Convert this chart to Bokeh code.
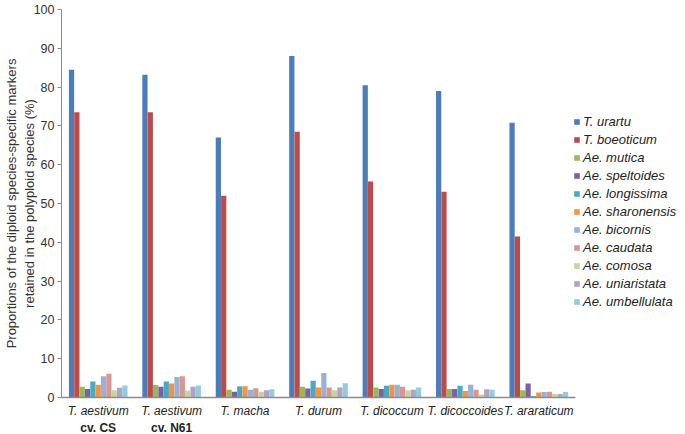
from bokeh.plotting import figure
from bokeh.models import (ColumnDataSource, FactorRange, Range1d, Legend, LegendItem,
                          SingleIntervalTicker)
from bokeh.transform import dodge
from bokeh.embed import file_html
from bokeh.resources import INLINE

species_names = ["T. aestivum", "T. aestivum", "T. macha", "T. durum",
                 "T. dicoccum", "T. dicoccoides", "T. araraticum"]
cultivar_names = ["cv. CS", "cv. N61", "", "", "", "", ""]

series = ["T. urartu", "T. boeoticum", "Ae. mutica", "Ae. speltoides", "Ae. longissima",
          "Ae. sharonensis", "Ae. bicornis", "Ae. caudata", "Ae. comosa",
          "Ae. uniaristata", "Ae. umbellulata"]

t_urartu = [84.5, 83.2, 67.0, 88.0, 80.5, 79.0, 70.8]
t_boeoticum = [73.5, 73.5, 52.0, 68.5, 55.7, 53.0, 41.5]
ae_mutica = [2.8, 3.2, 2.0, 2.8, 2.6, 2.2, 1.9]
ae_speltoides = [2.2, 2.8, 1.5, 2.3, 2.2, 2.2, 3.6]
ae_longissima = [4.1, 4.1, 2.9, 4.3, 3.0, 3.0, 0.4]
ae_sharonensis = [3.3, 3.6, 2.9, 2.6, 3.3, 1.7, 1.3]
ae_bicornis = [5.5, 5.3, 2.0, 6.3, 3.3, 3.3, 1.4]
ae_caudata = [6.1, 5.5, 2.4, 2.6, 2.8, 2.0, 1.5]
ae_comosa = [1.9, 1.8, 1.5, 1.9, 1.8, 0.8, 0.9]
ae_uniaristata = [2.5, 2.8, 1.9, 2.6, 2.0, 2.1, 0.9]
ae_umbellulata = [3.1, 3.1, 2.1, 3.7, 2.6, 2.0, 1.4]

values = [t_urartu, t_boeoticum, ae_mutica, ae_speltoides, ae_longissima, ae_sharonensis,
          ae_bicornis, ae_caudata, ae_comosa, ae_uniaristata, ae_umbellulata]

colors = ["#4A7DBB", "#BE4B48", "#98B954", "#7D60A0", "#46AAC5", "#F69240",
          "#95B3D7", "#D99694", "#C3D69B", "#B2A2C7", "#93CDDD"]

FONT = "Liberation Sans"

factors = [(c, s) for c, s in zip(cultivar_names, species_names)]
data = {"cat": factors}
for i, v in enumerate(values):
    data["s%d" % i] = v
source = ColumnDataSource(data)

xr = FactorRange(*factors, range_padding=0, group_padding=0, factor_padding=0)

p = figure(x_range=xr, y_range=Range1d(0, 100),
           frame_width=514, frame_height=388, output_backend="svg", toolbar_location=None,
           min_border_left=0, min_border_top=9, min_border_bottom=0, min_border_right=0,
           background_fill_color="white", border_fill_color="white", outline_line_color=None)

n = len(series)
group = 0.80
bw = group / n
renderers = []
for i in range(n):
    off = (i - (n - 1) / 2) * bw
    r = p.vbar(x=dodge("cat", off, range=p.x_range), top="s%d" % i, width=bw * 0.98,
               source=source, fill_color=colors[i], line_color=None)
    renderers.append(r)

p.xgrid.grid_line_color = None
p.ygrid.grid_line_color = None

# y axis
ya = p.yaxis[0]
ya.ticker = SingleIntervalTicker(interval=10)
ya.axis_label = "Proportions of the diploid species-specific markers\nretained in the polyploid species (%)"
ya.axis_label_text_font = FONT
ya.axis_label_text_font_size = "13px"
ya.axis_label_text_font_style = "normal"
ya.axis_label_text_color = "#333333"
ya.axis_label_standoff = -6
ya.major_label_text_font = FONT
ya.major_label_text_font_size = "12.5px"
ya.major_label_text_color = "#333333"
ya.axis_line_color = "#8C8C8C"
ya.major_tick_line_color = "#8C8C8C"
ya.major_tick_in = 0
ya.major_tick_out = 4
ya.minor_tick_line_color = None
ya.major_label_standoff = 3

# x axis: species (italic) above cultivar (bold)
xa = p.xaxis[0]
xa.major_label_text_font = FONT
xa.major_label_text_font_size = "12px"
xa.major_label_text_font_style = "italic"
xa.major_label_text_color = "#222222"
xa.group_text_font = FONT
xa.group_text_font_size = "12px"
xa.group_text_font_style = "bold"
xa.group_text_color = "#222222"
xa.group_label_orientation = "horizontal"
xa.separator_line_color = None
xa.axis_line_color = "#8C8C8C"
xa.axis_line_width = 1.5
xa.major_tick_line_color = None
xa.minor_tick_line_color = None
xa.major_label_standoff = 0

legend = Legend(items=[LegendItem(label=s, renderers=[r]) for s, r in zip(series, renderers)],
                location=(-2, 88))
legend.label_text_font = FONT
legend.label_text_font_size = "13px"
legend.label_text_font_style = "italic"
legend.label_text_color = "#222222"
legend.glyph_width = 7
legend.glyph_height = 7
legend.label_height = 14
legend.label_standoff = 3
legend.spacing = 3
legend.padding = 0
legend.margin = 0
legend.border_line_color = None
legend.background_fill_alpha = 0
p.add_layout(legend, "right")

open("out.html", "w").write(file_html(p, INLINE))
